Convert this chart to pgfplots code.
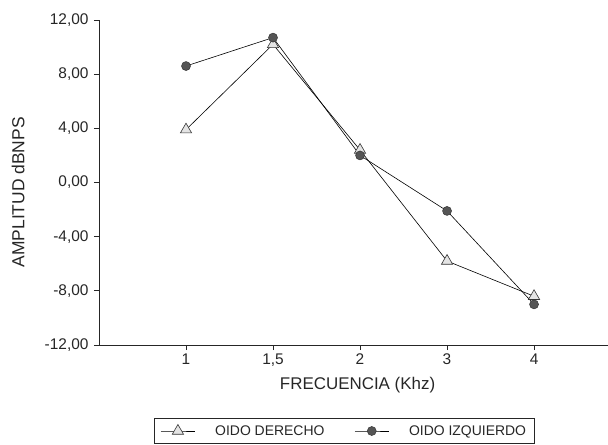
\documentclass[border=0pt]{standalone}
\usepackage{fontspec}
\setmainfont{Liberation Sans}
\usepackage{pgfplots}
\pgfplotsset{compat=1.18}
\definecolor{mdark}{HTML}{555555}
\definecolor{mlight}{HTML}{E4E4E4}
\begin{document}
\begin{tikzpicture}
\begin{axis}[
  scale only axis,
  width=509bp, height=325bp,
  xmin=0, xmax=5.85,
  ymin=-12, ymax=12,
  axis x line*=bottom, axis y line*=left,
  axis line style={-, line width=0.9pt, black!85},
  tick style={line width=0.9pt, black!85},
  tick align=outside,
  major tick length=5bp,
  xtick={1,2,3,4,5},
  xticklabels={1,{1,5},2,3,4},
  ytick={-12,-8,-4,0,4,8,12},
  yticklabels={{-12,00},{-8,00},{-4,00},{0,00},{4,00},{8,00},{12,00}},
  ticklabel style={font=\fontsize{15.5}{18}\selectfont, text=black!85},
  yticklabel style={xshift=-2bp},
  xlabel={FRECUENCIA (Khz)},
  ylabel={AMPLITUD dBNPS},
  xlabel style={font=\fontsize{17}{20}\selectfont, text=black!85, at={(axis description cs:0.508,-0.123)}, anchor=center},
  ylabel style={font=\fontsize{17.5}{20}\selectfont, text=black!85, at={(axis description cs:-0.159,0.47)}, anchor=center},
  legend columns=2,
  legend style={font=\fontsize{14}{16}\selectfont, text=black!85, at={(axis description cs:0.482,-0.2246)}, anchor=north,
    draw=black!85, line width=0.8pt, inner xsep=6bp, inner ysep=5bp,
    /tikz/every odd column/.append style={column sep=18bp},
    /tikz/every even column/.append style={column sep=28bp}},
  legend image code/.code={\draw[mark repeat=2,mark phase=2,#1] plot coordinates {(0bp,0bp) (17bp,0bp) (34bp,0bp)};},
]
\addplot[black, line width=0.6pt, mark=triangle*, mark size=6.5bp, mark options={fill=mlight, draw=black!80, line width=0.6pt}]
  coordinates {(1,3.9) (2,10.2) (3,2.4) (4,-5.8) (5,-8.4)};
\addlegendentry{OIDO DERECHO}
\addplot[black, line width=0.6pt, mark=*, mark size=4.5bp, mark options={fill=mdark, draw=black!80, line width=0.5pt}]
  coordinates {(1,8.6) (2,10.7) (3,2.0) (4,-2.1) (5,-9.0)};
\addlegendentry{OIDO IZQUIERDO}
\end{axis}
\pgfresetboundingbox
\useasboundingbox (-99bp,-100bp) rectangle (509bp,345bp);
\end{tikzpicture}
\end{document}
